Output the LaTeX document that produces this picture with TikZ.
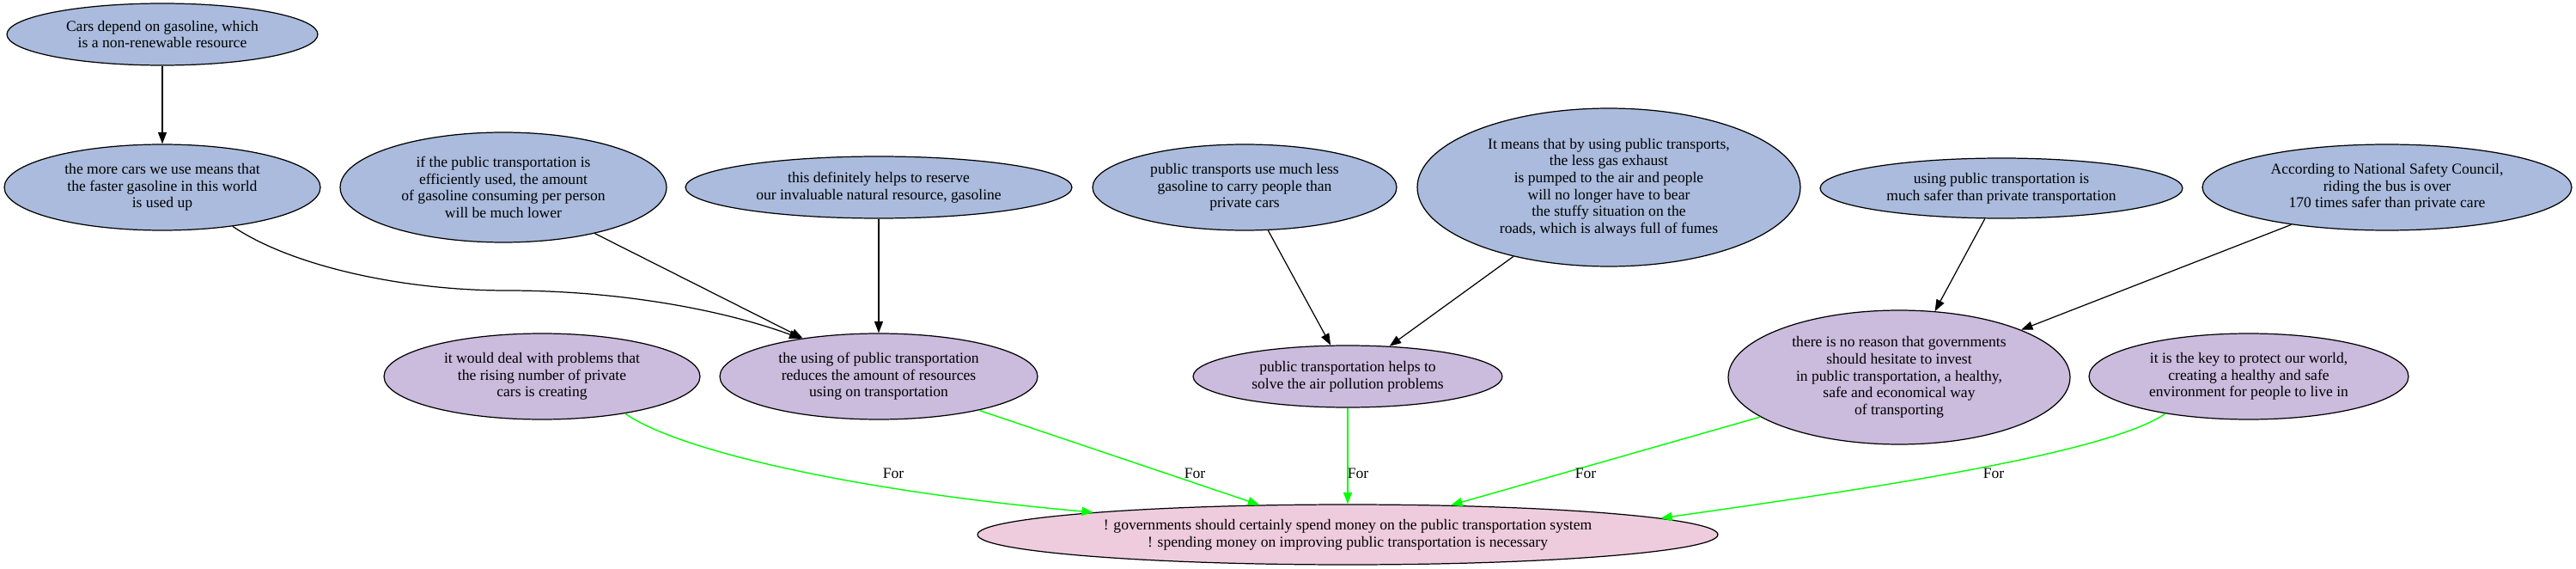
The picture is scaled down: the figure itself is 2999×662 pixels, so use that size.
\documentclass[tikz,border=0pt]{standalone}
\usepackage{fontspec}
\setmainfont{Liberation Serif}
\usetikzlibrary{shapes.geometric,arrows.meta}
\definecolor{premcol}{HTML}{AABBDD}
\definecolor{subcol}{HTML}{CBBBDD}
\definecolor{maincol}{HTML}{EECCDD}
\definecolor{forcol}{HTML}{00FF00}

\begin{document}
\begin{tikzpicture}[x=0.02cm, y=0.02cm]
\tikzstyle{every node}+=[inner sep=0pt, font=\fontsize{10}{11.2}\selectfont, align=center]
\tikzstyle{arg}=[ellipse, draw=black, line width=0.7pt]
\tikzstyle{premise}=[arg, fill=premcol]
\tikzstyle{reason}=[arg, fill=subcol]
\tikzstyle{claim}=[arg, fill=maincol]
\tikzstyle{link}=[black, line width=0.7pt, -{Triangle[length=0.27cm,width=0.2cm]}]
\tikzstyle{forlink}=[link, color=forcol, line width=0.8pt]
\useasboundingbox (0,0) rectangle (2999,-662);
\node [premise, minimum width=7.24cm, minimum height=1.44cm] (cars) at (189,-40) {Cars depend on gasoline, which\\is a non-renewable resource};
\node [premise, minimum width=7.36cm, minimum height=2cm] (more) at (189,-218) {the more cars we use means that\\the faster gasoline in this world\\is used up};
\node [premise, minimum width=7.6cm, minimum height=2.56cm] (ifpub) at (586,-218) {if the public transportation is\\efficiently used, the amount\\of gasoline consuming per person\\will be much lower};
\node [premise, minimum width=9cm, minimum height=1.44cm] (reserve) at (1023,-218) {this definitely helps to reserve\\our invaluable natural resource, gasoline};
\node [premise, minimum width=7.08cm, minimum height=2cm] (lessgas) at (1449,-218) {public transports use much less\\gasoline to carry people than\\private cars};
\node [premise, minimum width=8.92cm, minimum height=3.68cm] (exhaust) at (1873,-218) {It means that by using public transports,\\the less gas exhaust\\is pumped to the air and people\\will no longer have to bear\\the stuffy situation on the\\roads, which is always full of fumes};
\node [premise, minimum width=8.44cm, minimum height=1.4cm] (safer) at (2330,-219) {using public transportation is\\much safer than private transportation};
\node [premise, minimum width=8.6cm, minimum height=2cm] (council) at (2779,-218) {According to National Safety Council,\\riding the bus is over\\170 times safer than private care};
\node [reason, minimum width=7.36cm, minimum height=2cm] (deal) at (631,-438) {it would deal with problems that\\the rising number of private\\cars is creating};
\node [reason, minimum width=7.4cm, minimum height=2cm] (reduces) at (1023,-438) {the using of public transportation\\reduces the amount of resources\\using on transportation};
\node [reason, minimum width=7.2cm, minimum height=1.44cm] (pollution) at (1569,-438) {public transportation helps to\\solve the air pollution problems};
\node [reason, minimum width=7.96cm, minimum height=3.12cm] (noreason) at (2211,-439) {there is no reason that governments\\should hesitate to invest\\in public transportation, a healthy,\\safe and economical way\\of transporting};
\node [reason, minimum width=7.44cm, minimum height=2cm] (key) at (2618,-438) {it is the key to protect our world,\\creating a healthy and safe\\environment for people to live in};
\node [claim, minimum width=17.24cm, minimum height=1.4cm] (main) at (1569,-622) {! governments should certainly spend money on the public transportation system\\! spending money on improving public transportation is necessary};
\draw [link] (cars) -- (more);
\draw [link] (more.-29) .. controls (340,-310) and (470,-338) .. (590,-338) .. controls (720,-338) and (840,-360) .. (reduces.154.5);
\draw [link] (ifpub) -- (reduces);
\draw [link] (reserve) -- (reduces);
\draw [link] (lessgas) -- (pollution);
\draw [link] (exhaust) -- (pollution);
\draw [link] (safer) -- (noreason);
\draw [link] (council) -- (noreason);
\draw [forlink] (deal.-24.8) .. controls (790,-525) and (1000,-572) .. (main.175.3);
\draw [forlink] (reduces) -- (main);
\draw [forlink] (pollution) -- (main);
\draw [forlink] (noreason) -- (main);
\draw [forlink] (key.204.8) .. controls (2450,-530) and (2150,-572) .. (main.3.5);
\node (for1) at (1040,-551) {For};
\node (for2) at (1391,-551) {For};
\node (for3) at (1581,-551) {For};
\node (for4) at (1846,-551) {For};
\node (for5) at (2321,-551) {For};
\end{tikzpicture}
\end{document}
